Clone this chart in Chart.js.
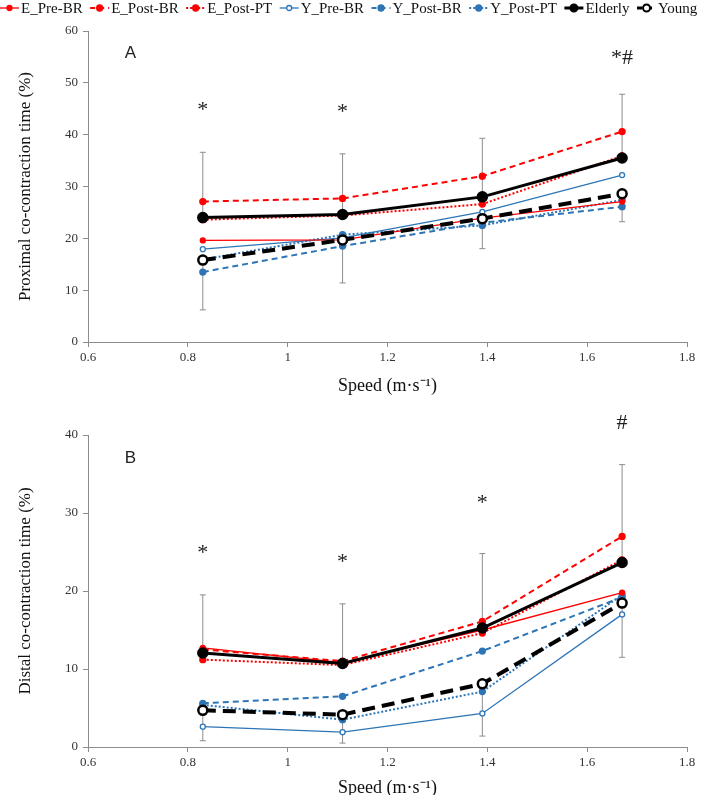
<!DOCTYPE html>
<html>
<head>
<meta charset="utf-8">
<title>Co-contraction time vs speed</title>
<script src="https://cdn.jsdelivr.net/npm/chart.js@4.4.1/dist/chart.umd.min.js"></script>
<style>
  body { margin: 0; background: #fff; }
  #wrap { position: relative; width: 714px; height: 795px; overflow: hidden; }
  #wrap canvas { position: absolute; left: 0; }
  #chartA { top: 0; }
  #chartB { top: 398px; }
</style>
</head>
<body>
<div id="wrap">
  <canvas id="chartA" width="714" height="400"></canvas>
  <canvas id="chartB" width="714" height="397"></canvas>
</div>
<script>
// Walking speeds (m/s)
var speeds = [0.83, 1.11, 1.39, 1.67];
var seriesNames = ['E_Pre-BR', 'E_Post-BR', 'E_Post-PT', 'Y_Pre-BR', 'Y_Post-BR', 'Y_Post-PT', 'Elderly', 'Young'];

// Panel A - proximal co-contraction time (%)
var ePreBrA   = [19.6, 19.7, 23.9, 27.1];
var ePostBrA  = [27.1, 27.7, 32.0, 40.6];
var ePostPtA  = [23.6, 24.4, 26.6, 35.9];
var yPreBrA   = [17.9, 20.1, 25.1, 32.2];
var yPostBrA  = [13.5, 18.5, 23.0, 26.1];
var yPostPtA  = [15.9, 20.7, 22.5, 27.4];
var elderlyA  = [24.0, 24.6, 28.0, 35.5];
var youngA    = [15.8, 19.7, 23.8, 28.6];
var elderlySdA = [12.6, 11.7, 11.3, 12.3];
var youngSdA   = [9.6, 8.3, 5.8, 5.4];

// Panel B - distal co-contraction time (%)
var ePreBrB   = [12.7, 10.8, 15.0, 19.8];
var ePostBrB  = [12.5, 11.0, 16.1, 27.0];
var ePostPtB  = [11.2, 10.5, 14.6, 24.0];
var yPreBrB   = [2.6, 1.9, 4.3, 17.0];
var yPostBrB  = [5.6, 6.5, 12.3, 19.2];
var yPostPtB  = [5.4, 3.5, 7.1, 19.5];
var elderlyB  = [12.05, 10.7, 15.25, 23.65];
var youngB    = [4.7, 4.15, 8.1, 18.45];
var elderlySdB = [7.45, 7.65, 9.55, 12.55];
var youngSdB   = [3.9, 3.65, 6.7, 6.95];

// significance marks above each speed
var marksA = ['*', '*', '', '*#'];
var marksB = ['*', '*', '*', '#'];

var RED = '#ff0000';
var BLUE = '#2e75b6';
var SERIF = '"Liberation Serif", "Times New Roman", serif';

// line / marker style of each series, same order as seriesNames
var styles = [
    { color: RED,   width: 1.3, dash: [],      r: 2.5, fill: RED },
    { color: RED,   width: 2,   dash: [6, 4],  r: 3,   fill: RED },
    { color: RED,   width: 2,   dash: [2, 2],  r: 3,   fill: RED },
    { color: BLUE,  width: 1.3, dash: [],      r: 2.5, fill: '#fff' },
    { color: BLUE,  width: 2,   dash: [6, 4],  r: 3,   fill: BLUE },
    { color: BLUE,  width: 2,   dash: [2, 2],  r: 3,   fill: BLUE },
    { color: '#000', width: 3,  dash: [],      r: 4.5, fill: '#000' },
    { color: '#000', width: 4,  dash: [13, 7], r: 4.5, fill: '#fff' }
];

function buildDatasets(values, eSd, ySd) {
    return values.map(function (vals, i) {
        var s = styles[i];
        var ds = {
            label: seriesNames[i],
            data: vals.map(function (v, k) { return { x: speeds[k], y: v }; }),
            borderColor: s.color,
            borderWidth: s.width,
            borderDash: s.dash,
            pointRadius: s.r,
            pointHoverRadius: s.r,
            pointBackgroundColor: s.fill,
            pointBorderColor: s.color,
            pointBorderWidth: i >= 6 ? 2.5 : 1.3,
            tension: 0,
            fill: false,
            order: i >= 6 ? 0 : 1
        };
        if (i === 6) ds.errUp = eSd;
        if (i === 7) ds.errDown = ySd;
        return ds;
    });
}

// error bars: elderly whisker goes up, young whisker goes down
var errorBars = {
    id: 'errorBars',
    beforeDatasetsDraw: function (chart) {
        var ctx = chart.ctx;
        var xs = chart.scales.x, ys = chart.scales.y;
        ctx.save();
        ctx.strokeStyle = '#8c8c8c';
        ctx.lineWidth = 1;
        chart.data.datasets.forEach(function (ds) {
            var sd = ds.errUp || ds.errDown;
            if (!sd) return;
            var sign = ds.errUp ? 1 : -1;
            ds.data.forEach(function (p, k) {
                var px = xs.getPixelForValue(p.x);
                var y0 = ys.getPixelForValue(p.y);
                var y1 = ys.getPixelForValue(p.y + sign * sd[k]);
                ctx.beginPath();
                ctx.moveTo(px, y0);
                ctx.lineTo(px, y1);
                ctx.moveTo(px - 3, y1);
                ctx.lineTo(px + 3, y1);
                ctx.stroke();
            });
        });
        ctx.restore();
    }
};

// panel letter and significance marks
var panelText = {
    id: 'panelText',
    afterDraw: function (chart, args, opts) {
        var ctx = chart.ctx;
        var xs = chart.scales.x, ys = chart.scales.y;
        ctx.save();
        ctx.fillStyle = '#222';
        ctx.textAlign = 'center';
        ctx.textBaseline = 'middle';
        ctx.font = '17px "Liberation Sans", Arial, sans-serif';
        ctx.fillText(opts.letter, xs.getPixelForValue(0.685), ys.getPixelForValue(opts.letterY));
        ctx.font = '22px ' + SERIF;
        opts.marks.forEach(function (m, k) {
            if (!m) return;
            ctx.fillText(m, xs.getPixelForValue(speeds[k]), ys.getPixelForValue(opts.markY[k]));
        });
        ctx.restore();
    }
};

// legend row across the top of the first panel
var topLegend = {
    id: 'topLegend',
    afterDraw: function (chart, args, opts) {
        if (!opts.show) return;
        var ctx = chart.ctx;
        var x = 0, y = 8;
        ctx.save();
        ctx.font = '15px ' + SERIF;
        ctx.textBaseline = 'middle';
        chart.data.datasets.forEach(function (ds) {
            ctx.strokeStyle = ds.borderColor;
            ctx.lineWidth = Math.min(ds.borderWidth, 3);
            ctx.setLineDash(ds.borderDash.map(function (d) { return Math.min(d, 5); }));
            ctx.beginPath();
            ctx.moveTo(x, y);
            ctx.lineTo(x + 19, y);
            ctx.stroke();
            ctx.setLineDash([]);
            ctx.beginPath();
            ctx.arc(x + 9.5, y, Math.min(ds.pointRadius, 3.5), 0, Math.PI * 2);
            ctx.fillStyle = ds.pointBackgroundColor;
            ctx.fill();
            ctx.lineWidth = Math.min(ds.pointBorderWidth, 2);
            ctx.stroke();
            ctx.fillStyle = '#111';
            ctx.fillText(ds.label, x + 21, y + 1);
            x += 21 + ctx.measureText(ds.label).width + 7.5;
        });
        ctx.restore();
    }
};

function makeChart(id, opt) {
    return new Chart(document.getElementById(id), {
        type: 'line',
        data: { datasets: opt.datasets },
        options: {
            responsive: false,
            animation: false,
            events: [],
            layout: { padding: { top: opt.top, right: 27, left: 0, bottom: 0 } },
            plugins: {
                legend: { display: false },
                tooltip: { enabled: false },
                topLegend: { show: opt.legend },
                panelText: { letter: opt.letter, letterY: opt.letterY, marks: opt.marks, markY: opt.markY }
            },
            scales: {
                x: {
                    type: 'linear',
                    min: 0.6,
                    max: 1.8,
                    afterFit: function (scale) { scale.height = opt.xHeight; },
                    ticks: {
                        stepSize: 0.2,
                        color: '#333',
                        padding: 3,
                        font: { family: SERIF, size: 13 },
                        callback: function (v) { return String(+v.toFixed(1)); }
                    },
                    grid: { drawOnChartArea: false, tickLength: 5, color: '#8c8c8c' },
                    border: { color: '#8c8c8c', width: 1 },
                    title: {
                        display: true,
                        text: 'Speed (m\u00b7s\u207b\u00b9)',
                        color: '#111',
                        font: { family: SERIF, size: 18, lineHeight: 1 },
                        padding: { top: 0, bottom: opt.titlePad }
                    }
                },
                y: {
                    min: 0,
                    max: opt.yMax,
                    afterFit: function (scale) { scale.width = 88; },
                    ticks: {
                        stepSize: 10,
                        color: '#333',
                        padding: 5,
                        font: { family: SERIF, size: 13 }
                    },
                    grid: { drawOnChartArea: false, tickLength: 5, color: '#8c8c8c' },
                    border: { color: '#8c8c8c', width: 1 },
                    title: {
                        display: true,
                        text: opt.yTitle,
                        color: '#111',
                        font: { family: SERIF, size: 17 },
                        padding: { top: 15, bottom: 0 }
                    }
                }
            }
        },
        plugins: [errorBars, panelText, topLegend]
    });
}

makeChart('chartA', {
    datasets: buildDatasets([ePreBrA, ePostBrA, ePostPtA, yPreBrA, yPostBrA, yPostPtA, elderlyA, youngA], elderlySdA, youngSdA),
    top: 31, xHeight: 58, titlePad: 5, yMax: 60, legend: true,
    yTitle: 'Proximal co-contraction time (%)',
    letter: 'A', letterY: 55.6,
    marks: marksA, markY: [44.7, 44.4, 0, 54.8]
});

makeChart('chartB', {
    datasets: buildDatasets([ePreBrB, ePostBrB, ePostPtB, yPreBrB, yPostBrB, yPostPtB, elderlyB, youngB], elderlySdB, youngSdB),
    top: 37, xHeight: 48, titlePad: -2, yMax: 40, legend: false,
    yTitle: 'Distal co-contraction time (%)',
    letter: 'B', letterY: 37.0,
    marks: marksB, markY: [24.8, 23.7, 31.3, 41.5]
});
</script>
</body>
</html>
